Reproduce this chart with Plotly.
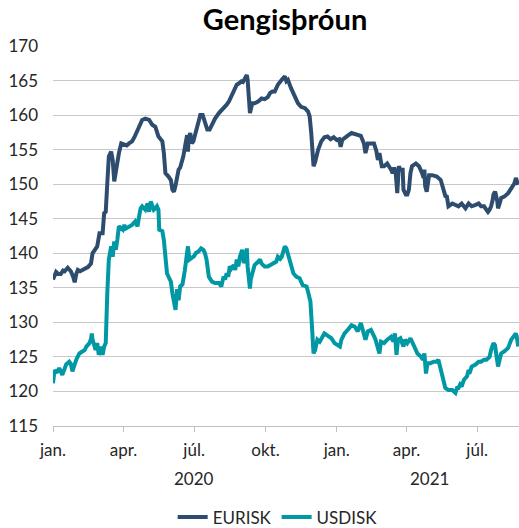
import plotly.graph_objects as go

eur_dates = [
 "2020-01-01","2020-01-03","2020-01-05","2020-01-08","2020-01-11","2020-01-14","2020-01-16","2020-01-20","2020-01-22","2020-01-24",
 "2020-01-27","2020-01-29","2020-01-31","2020-02-02","2020-02-05","2020-02-08","2020-02-11","2020-02-15","2020-02-19","2020-02-21",
 "2020-02-24","2020-02-27","2020-03-01","2020-03-05","2020-03-07","2020-03-09","2020-03-11","2020-03-13","2020-03-16","2020-03-18",
 "2020-03-20","2020-03-22","2020-03-24","2020-03-26","2020-03-29","2020-04-02","2020-04-05","2020-04-08","2020-04-12","2020-04-15",
 "2020-04-18","2020-04-21","2020-04-25","2020-04-29","2020-05-04","2020-05-08","2020-05-12","2020-05-16","2020-05-21","2020-05-23",
 "2020-05-25","2020-05-29","2020-06-01","2020-06-03","2020-06-05","2020-06-07","2020-06-09","2020-06-11","2020-06-13","2020-06-17",
 "2020-06-20","2020-06-22","2020-06-23","2020-06-24","2020-06-26","2020-06-28","2020-06-30","2020-07-03","2020-07-05","2020-07-07",
 "2020-07-09","2020-07-12","2020-07-15","2020-07-18","2020-07-21","2020-07-24","2020-07-28","2020-08-02","2020-08-06","2020-08-09",
 "2020-08-12","2020-08-15","2020-08-18","2020-08-21","2020-08-25","2020-08-28","2020-08-31","2020-09-02","2020-09-04","2020-09-07",
 "2020-09-08","2020-09-10","2020-09-11","2020-09-14","2020-09-17","2020-09-22","2020-09-26","2020-09-30","2020-10-04","2020-10-07",
 "2020-10-10","2020-10-13","2020-10-17","2020-10-22","2020-10-26","2020-10-28","2020-10-30","2020-11-03","2020-11-08","2020-11-12",
 "2020-11-16","2020-11-21","2020-11-25","2020-11-27","2020-11-29","2020-12-01","2020-12-02","2020-12-04","2020-12-08","2020-12-12",
 "2020-12-16","2020-12-20","2020-12-24","2020-12-28","2021-01-01","2021-01-04","2021-01-06","2021-01-08","2021-01-12","2021-01-16",
 "2021-01-20","2021-01-24","2021-01-28","2021-02-01","2021-02-05","2021-02-07","2021-02-10","2021-02-14","2021-02-18","2021-02-21",
 "2021-02-23","2021-02-25","2021-02-28","2021-03-03","2021-03-07","2021-03-12","2021-03-14","2021-03-16","2021-03-18","2021-03-20",
 "2021-03-22","2021-03-24","2021-03-27","2021-03-28","2021-03-31","2021-04-02","2021-04-04","2021-04-06","2021-04-08","2021-04-13",
 "2021-04-17","2021-04-21","2021-04-23","2021-04-24","2021-04-25","2021-04-27","2021-04-30","2021-05-04","2021-05-10","2021-05-15",
 "2021-05-18","2021-05-21","2021-05-23","2021-05-25","2021-05-30","2021-06-03","2021-06-07","2021-06-11","2021-06-16","2021-06-20",
 "2021-06-24","2021-06-29","2021-07-03","2021-07-06","2021-07-10","2021-07-13","2021-07-15","2021-07-17","2021-07-19","2021-07-21",
 "2021-07-22","2021-07-24","2021-07-25","2021-07-27","2021-07-28","2021-07-30","2021-08-01","2021-08-05","2021-08-10","2021-08-14",
 "2021-08-18","2021-08-20","2021-08-21","2021-08-23",
]
eur_values = [
 136.2,136.9,137.3,137.0,137.0,137.5,137.4,137.9,137.6,137.4,
 136.6,135.8,137.0,137.6,137.4,137.6,137.8,138.0,138.5,140.0,
 140.5,141.0,142.9,142.9,145.8,146.0,150.1,154.0,154.7,153.5,
 150.4,152.1,153.5,154.5,155.9,155.8,155.6,155.9,156.2,156.8,
 157.5,158.3,159.3,159.5,159.3,158.6,158.3,156.9,156.2,154.5,
 151.6,151.1,150.6,149.2,148.9,149.8,151.3,152.1,152.4,154.0,
 155.9,157.1,154.7,156.6,157.4,155.9,156.2,157.4,158.6,159.5,
 160.0,160.0,159.1,157.9,157.9,158.6,159.5,160.3,160.8,161.0,
 161.5,162.0,162.7,163.2,164.4,164.6,164.9,164.8,165.3,165.8,
 165.1,162.2,160.3,161.7,161.7,162.0,162.4,162.3,162.6,163.2,
 163.4,163.4,164.4,165.1,165.6,164.9,165.1,163.9,162.7,161.7,
 161.2,161.0,160.5,159.8,157.5,153.5,152.6,153.2,155.0,156.2,
 156.8,156.9,156.5,156.8,156.4,156.5,155.4,156.4,156.8,157.1,
 157.4,157.3,157.2,157.0,155.9,154.5,155.9,155.9,155.9,154.8,
 153.5,154.5,152.6,152.6,153.0,152.1,151.6,152.4,151.6,148.7,
 152.6,152.1,152.1,149.2,148.5,148.5,149.2,151.6,152.6,153.0,
 152.6,151.6,150.9,152.1,149.7,148.9,151.3,151.3,151.1,150.6,
 149.2,148.3,148.2,146.8,147.2,147.0,146.8,147.2,146.5,147.2,
 146.8,147.0,147.2,146.8,146.8,146.3,146.0,146.3,146.8,147.7,
 148.5,148.9,148.6,147.5,146.5,147.2,148.0,148.2,148.7,149.4,
 150.1,150.9,150.4,149.9,
]

usd_dates = [
 "2020-01-01","2020-01-03","2020-01-05","2020-01-07","2020-01-09","2020-01-11","2020-01-13","2020-01-16","2020-01-18","2020-01-22",
 "2020-01-24","2020-01-26","2020-01-28","2020-01-31","2020-02-04","2020-02-08","2020-02-11","2020-02-13","2020-02-17","2020-02-19",
 "2020-02-20","2020-02-21","2020-02-23","2020-02-25","2020-02-27","2020-02-29","2020-03-03","2020-03-05","2020-03-07","2020-03-09",
 "2020-03-11","2020-03-13","2020-03-16","2020-03-18","2020-03-20","2020-03-22","2020-03-24","2020-03-26","2020-03-31","2020-04-02",
 "2020-04-04","2020-04-08","2020-04-12","2020-04-16","2020-04-19","2020-04-21","2020-04-23","2020-04-25","2020-04-27","2020-04-29",
 "2020-05-02","2020-05-04","2020-05-06","2020-05-08","2020-05-10","2020-05-12","2020-05-14","2020-05-16","2020-05-17","2020-05-21",
 "2020-05-23","2020-05-25","2020-05-27","2020-05-29","2020-06-01","2020-06-03","2020-06-05","2020-06-07","2020-06-09","2020-06-11",
 "2020-06-13","2020-06-16","2020-06-19","2020-06-22","2020-06-23","2020-06-25","2020-06-28","2020-07-01","2020-07-03","2020-07-07",
 "2020-07-10","2020-07-13","2020-07-15","2020-07-17","2020-07-20","2020-07-24","2020-07-28","2020-08-02","2020-08-05","2020-08-08",
 "2020-08-10","2020-08-12","2020-08-14","2020-08-16","2020-08-18","2020-08-21","2020-08-23","2020-08-25","2020-08-27","2020-08-29",
 "2020-09-01","2020-09-03","2020-09-05","2020-09-07","2020-09-08","2020-09-10","2020-09-11","2020-09-12","2020-09-14","2020-09-17",
 "2020-09-22","2020-09-24","2020-09-26","2020-09-30","2020-10-04","2020-10-08","2020-10-11","2020-10-15","2020-10-17","2020-10-20",
 "2020-10-22","2020-10-24","2020-10-26","2020-10-28","2020-10-30","2020-11-02","2020-11-06","2020-11-10","2020-11-14","2020-11-18",
 "2020-11-23","2020-11-25","2020-11-28","2020-11-30","2020-12-02","2020-12-04","2020-12-07","2020-12-10","2020-12-13","2020-12-16",
 "2020-12-21","2020-12-25","2020-12-29","2021-01-02","2021-01-05","2021-01-07","2021-01-11","2021-01-15","2021-01-20","2021-01-24",
 "2021-01-28","2021-02-01","2021-02-05","2021-02-07","2021-02-10","2021-02-14","2021-02-18","2021-02-20","2021-02-25","2021-02-27",
 "2021-03-03","2021-03-07","2021-03-12","2021-03-15","2021-03-17","2021-03-19","2021-03-21","2021-03-24","2021-03-28","2021-03-30",
 "2021-04-02","2021-04-06","2021-04-11","2021-04-15","2021-04-19","2021-04-22","2021-04-24","2021-04-26","2021-04-28","2021-05-02",
 "2021-05-06","2021-05-10","2021-05-12","2021-05-15","2021-05-18","2021-05-21","2021-05-25","2021-05-30","2021-06-03","2021-06-05",
 "2021-06-07","2021-06-09","2021-06-11","2021-06-14","2021-06-18","2021-06-20","2021-06-21","2021-06-24","2021-06-29","2021-07-03",
 "2021-07-06","2021-07-10","2021-07-13","2021-07-17","2021-07-19","2021-07-21","2021-07-22","2021-07-24","2021-07-25","2021-07-27",
 "2021-07-28","2021-07-30","2021-08-01","2021-08-05","2021-08-10","2021-08-14","2021-08-18","2021-08-20","2021-08-21","2021-08-23",
]
usd_values = [
 121.2,123.1,122.8,122.9,123.4,123.0,122.4,123.3,123.9,124.3,
 124.0,122.9,123.6,124.6,125.5,125.8,126.0,126.5,127.0,127.6,
 128.4,127.5,126.5,126.0,127.0,125.3,126.5,125.3,126.5,127.0,
 134.2,139.1,141.0,139.5,141.7,140.5,142.0,143.9,143.4,144.1,
 143.6,143.9,144.1,144.6,143.9,145.3,146.5,146.8,146.5,146.3,
 147.2,146.0,147.5,146.8,146.3,146.5,146.8,146.3,143.4,143.2,
 141.9,139.5,137.1,136.6,135.9,134.2,132.8,131.8,134.8,133.2,
 135.2,135.5,137.5,139.8,141.0,139.1,139.3,139.6,140.0,140.3,
 140.7,140.5,140.0,139.1,136.6,135.9,135.7,135.7,135.2,136.6,
 136.2,137.1,136.6,138.1,137.8,138.3,137.6,139.1,138.1,139.5,
 140.5,138.6,139.1,140.7,138.1,135.2,134.9,136.2,137.1,138.3,
 138.8,139.1,138.5,138.1,138.1,138.4,138.6,138.8,139.5,139.2,
 139.5,140.5,141.0,140.7,140.0,138.6,137.1,136.6,136.4,135.4,
 135.2,134.4,133.0,129.4,125.5,126.0,127.5,127.2,127.8,128.4,
 128.0,127.7,127.0,126.7,126.5,127.5,128.4,128.9,129.6,129.4,
 128.7,129.9,128.4,127.5,128.7,128.9,128.0,127.5,125.5,127.2,
 127.0,127.5,127.9,127.2,128.4,125.3,127.5,127.7,126.5,127.5,
 127.0,127.7,126.5,125.5,125.1,124.6,125.5,122.6,124.1,124.1,
 124.3,124.3,124.6,123.1,121.7,120.5,120.2,120.2,119.8,120.5,
 120.5,121.0,120.7,121.7,122.2,123.1,122.6,123.6,123.9,124.3,
 124.3,124.6,124.6,125.0,126.0,127.0,127.0,126.7,126.0,125.0,
 123.6,124.6,125.5,125.8,126.3,127.5,128.2,128.4,128.0,126.5,
]

tick_dates = ["2020-01-01", "2020-04-01", "2020-07-01", "2020-10-01",
              "2021-01-01", "2021-04-01", "2021-07-01"]
tick_labels = ["jan.", "apr.", "júl.", "okt.", "jan.", "apr.", "júl."]
year_labels = ["2020", "2021"]
year_centers = ["2020-07-01", "2021-04-30"]
y_ticks = [115, 120, 125, 130, 135, 140, 145, 150, 155, 160, 165, 170]

FONT = "Lato"
TXT = "#262626"

fig = go.Figure()
fig.add_trace(go.Scatter(x=eur_dates, y=eur_values, mode="lines", name="EURISK",
                         line=dict(color="#2E4D6E", width=4)))
fig.add_trace(go.Scatter(x=usd_dates, y=usd_values, mode="lines", name="USDISK",
                         line=dict(color="#0098A5", width=4)))

for lab, pos in zip(year_labels, year_centers):
    fig.add_annotation(x=pos, y=-0.139, xref="x", yref="paper", text=lab,
                       showarrow=False, font=dict(family=FONT, size=17, color=TXT),
                       xanchor="center", yanchor="middle")

fig.update_layout(
    width=519, height=528,
    margin=dict(l=53, r=0, t=46, b=102, autoexpand=False),
    paper_bgcolor="white", plot_bgcolor="white",
    title=dict(text="<b>Gengisþróun</b>", x=0.498, xanchor="center",
               xref="paper", y=0.962, yanchor="middle",
               font=dict(family=FONT, size=29, color="#000000")),
    font=dict(family=FONT, size=17, color=TXT),
    showlegend=True,
    legend=dict(orientation="h", xref="container", yref="container",
                x=0.535, xanchor="center", y=0.02, yanchor="middle",
                font=dict(family=FONT, size=17, color=TXT), itemwidth=30,
                bgcolor="rgba(0,0,0,0)"),
    xaxis=dict(type="date", range=["2020-01-01", "2021-08-24"],
               tickvals=tick_dates, ticktext=tick_labels,
               showgrid=False, showline=True, linecolor="#BFBFBF", linewidth=1,
               ticks="outside", ticklen=5, tickcolor="#BFBFBF",
               ticklabelstandoff=4,
               tickfont=dict(family=FONT, size=17, color=TXT), zeroline=False),
    yaxis=dict(range=[115, 170], tickvals=y_ticks, showgrid=True, gridcolor="#C8C8C8",
               gridwidth=1, zeroline=False, showline=False, ticks="",
               ticklabelstandoff=14,
               tickfont=dict(family=FONT, size=17, color=TXT)),
)

fig.write_html("out.html", config={"displayModeBar": False},
               post_script="document.body.style.margin='0';")
